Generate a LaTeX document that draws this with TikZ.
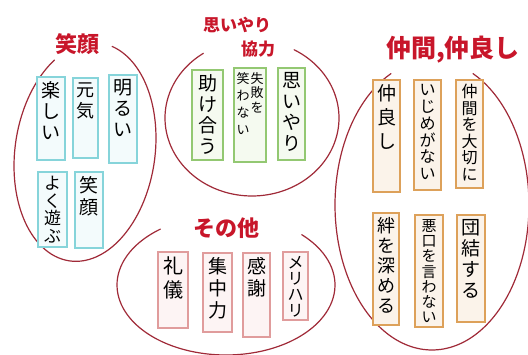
\documentclass[tikz,border=0pt]{standalone}
\usepackage{fontspec}
\newfontfamily\jp{Noto Sans CJK JP}
\definecolor{ellc}{HTML}{A02A38}
\definecolor{titc}{HTML}{C8162A}
\definecolor{cyB}{HTML}{86D4DA}
\definecolor{cyF}{HTML}{F3FBFC}
\definecolor{grB}{HTML}{93C872}
\definecolor{grF}{HTML}{F5FAF0}
\definecolor{orB}{HTML}{DDA15A}
\definecolor{orF}{HTML}{FBF3EA}
\definecolor{pkB}{HTML}{E09C9C}
\definecolor{pkF}{HTML}{FDF4F4}
\tikzset{
  ell/.style={draw=ellc, line width=1.2pt, line cap=round},
  boxbase/.style={rectangle, inner sep=0pt, line width=1.4pt},
  cybox/.style={boxbase, draw=cyB, fill=cyF},
  grbox/.style={boxbase, draw=grB, fill=grF},
  orbox/.style={boxbase, draw=orB, fill=orF},
  pkbox/.style={boxbase, draw=pkB, fill=pkF},
  vt/.style={inner sep=0pt, align=center, text=black},
  ttl/.style={inner sep=0pt, text=titc}
}
% style, name, x1, y1, x2, y2, fontsize, baselineskip, text
\newcommand\mkbox[9]{%
  \node[#1, minimum width={#5-#3}, minimum height={#6-#4}] (#2) at ({(#3+#5)/2},{(#4+#6)/2}) {};
  \node[vt, anchor=north, font=\jp\fontsize{#7}{#8}\selectfont] (#2t) at ([yshift=-5pt]#2.north) {#9};
}
\begin{document}
\begin{tikzpicture}[x=1pt,y=-1pt]
\path[use as bounding box, fill=white] (0,0) rectangle (528,355);
% ellipses (angles: 90 = down)
% left ellipse, tilted by 8 degrees
\draw[ell] plot[domain=-80:232, samples=100, smooth, variable=\t]
  ({85+70*cos(\t)*cos(8)-110*sin(\t)*sin(8)},{152+70*cos(\t)*sin(8)+110*sin(\t)*cos(8)});
\draw[ell] plot[domain=-61:236, samples=90, smooth, variable=\t] ({252+87*cos(\t)},{118+78*sin(\t)});
\draw[ell] plot[domain=-65:245, samples=90, smooth, variable=\t] ({432+97*cos(\t)},{205+145*sin(\t)});
\draw[ell] plot[domain=-46:233, samples=90, smooth, variable=\t] ({226+109*cos(\t)},{285+70*sin(\t)});
% titles
\node[ttl, font=\jp\bfseries\fontsize{22}{24}\selectfont] (t1) at (78,44) {笑顔};
\node[ttl, font=\jp\bfseries\fontsize{17}{19}\selectfont] (t2a) at (237,25) {思いやり};
\node[ttl, font=\jp\bfseries\fontsize{17}{19}\selectfont] (t2b) at (258,49) {協力};
\node[ttl, font=\jp\bfseries\fontsize{25}{27}\selectfont] (t3) at (453,50) {仲間,仲良し};
\node[ttl, font=\jp\bfseries\fontsize{22}{24}\selectfont] (t4) at (226,228) {その他};
% cyan group
\mkbox{cybox}{c1}{37}{77}{65}{160}{19}{21}{楽\\し\\い}
\mkbox{cybox}{c2}{73}{78}{98}{158}{18}{21}{元\\気}
\mkbox{cybox}{c3}{109}{75}{137}{163}{19}{21}{明\\る\\い}
\mkbox{cybox}{c4}{38}{172}{67}{247}{17}{17.5}{よ\\く\\遊\\ぶ}
\mkbox{cybox}{c5}{75}{172}{103}{248}{19}{22}{笑\\顔}
% green group
\mkbox{grbox}{g1}{192}{70}{223}{160}{19}{21}{助\\け\\合\\う}
\node[grbox, minimum width=32, minimum height=94] (g2) at (250,115) {};
\node[vt, anchor=north, font=\jp\fontsize{13}{14.5}\selectfont] (g2r) at ([xshift=7pt,yshift=-5pt]g2.north) {失\\敗\\を};
\node[vt, anchor=north, font=\jp\fontsize{13}{17}\selectfont] (g2l) at ([xshift=-7pt,yshift=-5pt]g2.north) {笑\\わ\\な\\い};
\mkbox{grbox}{g3}{278}{68}{305}{160}{19}{21}{思\\い\\や\\り}
% orange group
\mkbox{orbox}{o1}{373}{80}{400}{192}{19}{24}{仲\\良\\し}
\mkbox{orbox}{o2}{414}{80}{441}{190}{16}{16.8}{い\\じ\\め\\が\\な\\い}
\mkbox{orbox}{o3}{456}{80}{483}{188}{16}{16.5}{仲\\間\\を\\大\\切\\に}
\mkbox{orbox}{o4}{373}{213}{399}{325}{18}{20}{絆\\を\\深\\め\\る}
\mkbox{orbox}{o5}{415}{215}{443}{327}{15}{15.2}{悪\\口\\を\\言\\わ\\な\\い}
\mkbox{orbox}{o6}{457}{215}{485}{322}{19}{21}{団\\結\\す\\る}
% pink group
\mkbox{pkbox}{p1}{158}{252}{188}{328}{20}{24}{礼\\儀}
\mkbox{pkbox}{p2}{203}{253}{232}{332}{19}{22}{集\\中\\力}
\mkbox{pkbox}{p3}{243}{253}{270}{337}{19}{22}{感\\謝}
\mkbox{pkbox}{p4}{283}{252}{308}{320}{16}{16}{メ\\リ\\ハ\\リ}
\end{tikzpicture}
\end{document}
